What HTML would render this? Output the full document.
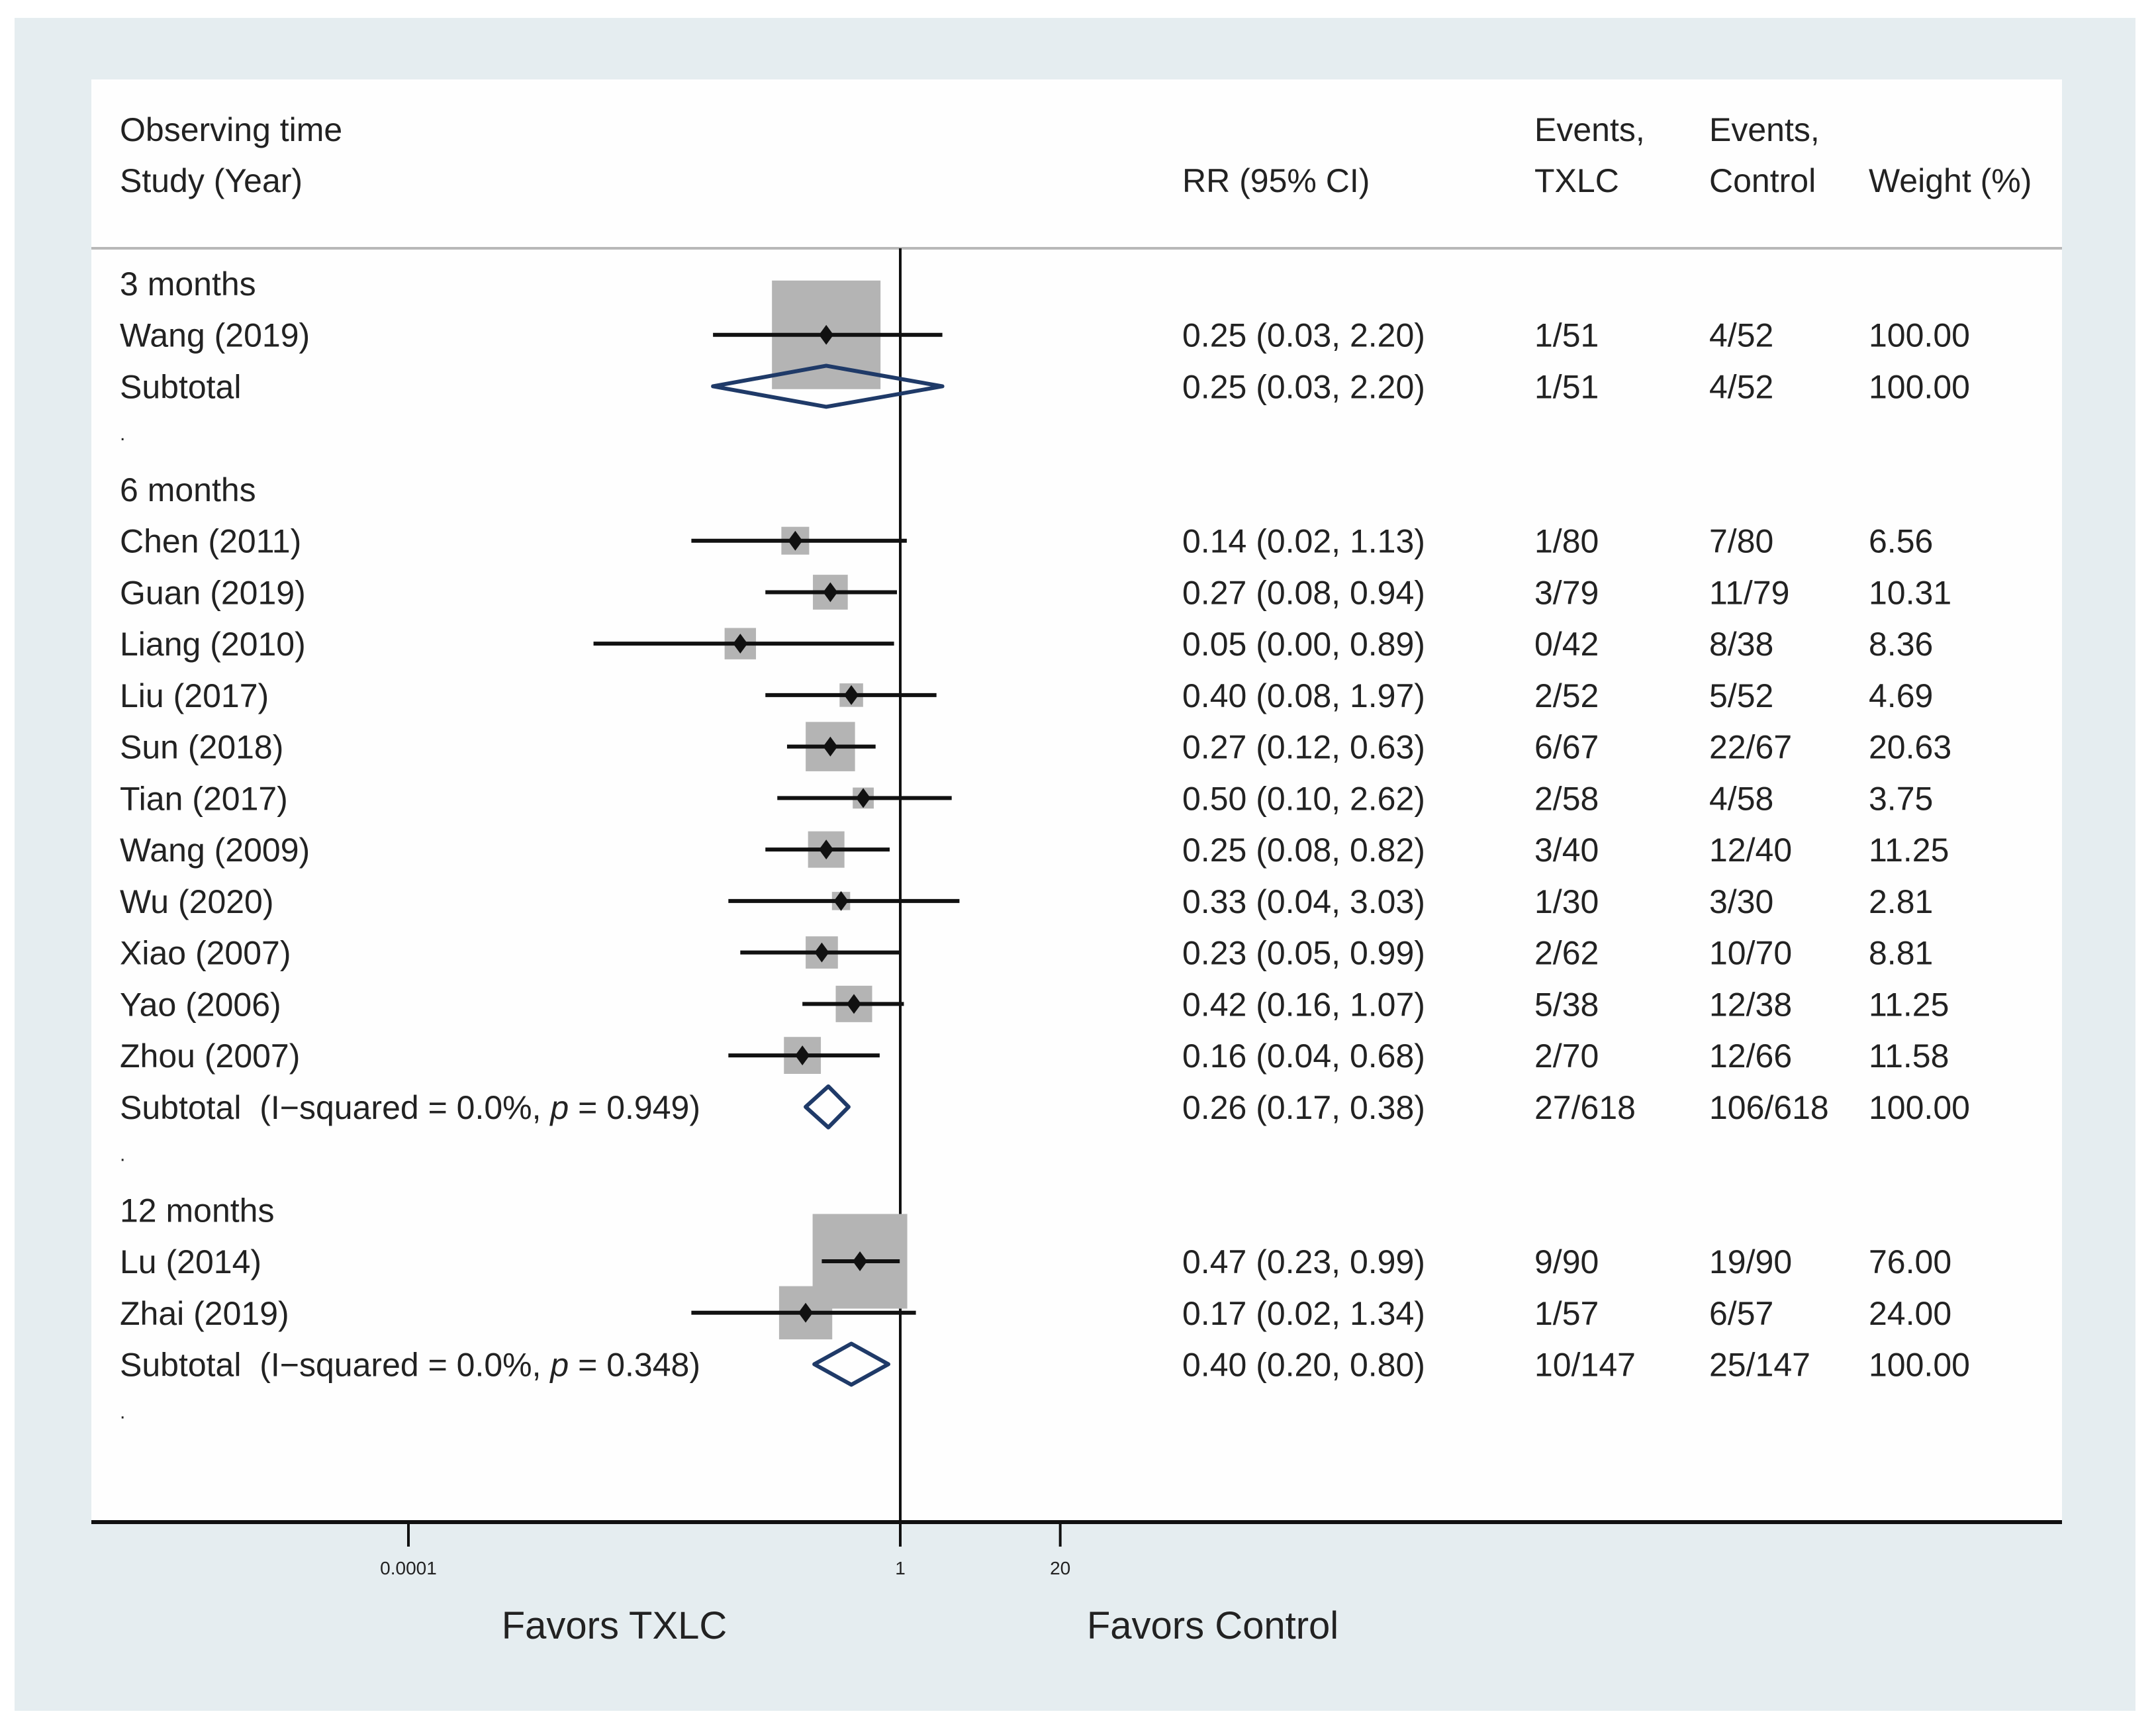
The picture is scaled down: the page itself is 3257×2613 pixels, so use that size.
<!DOCTYPE html>
<html><head><meta charset="utf-8"><style>
html,body{margin:0;padding:0;background:#fff;}
svg{display:block;}
text{font-family:"Liberation Sans",Arial,sans-serif;fill:#222;white-space:pre;}
</style></head><body>
<svg id="chart" width="3257" height="2613" viewBox="0 0 3257 2613" xmlns="http://www.w3.org/2000/svg">
<rect x="22" y="27" width="3204" height="2557" fill="#e5edf0"/>
<rect x="138" y="120" width="2977" height="2179" fill="#fefefe"/>
<line x1="138" y1="375" x2="3115" y2="375" stroke="#b8b8b8" stroke-width="4"/>
<g font-size="50">
<text x="181" y="213">Observing time</text>
<text x="181" y="290">Study (Year)</text>
<text x="1786" y="290">RR (95% CI)</text>
<text x="2318" y="213">Events,</text>
<text x="2318" y="290">TXLC</text>
<text x="2582" y="213">Events,</text>
<text x="2582" y="290">Control</text>
<text x="2823" y="290">Weight (%)</text>
</g>
<g id="marks"></g>
<g id="labels" font-size="50"></g>
<line x1="138" y1="2299" x2="3115" y2="2299" stroke="#111" stroke-width="6"/>
<g id="axis"></g>
<text x="928" y="2475" font-size="58" text-anchor="middle">Favors TXLC</text>
<text x="1832" y="2475" font-size="58" text-anchor="middle">Favors Control</text>
</svg>
<script>
// ---- data ----
const rowLabels = ["3 months","Wang (2019)","Subtotal",".","6 months","Chen (2011)","Guan (2019)","Liang (2010)","Liu (2017)","Sun (2018)","Tian (2017)","Wang (2009)","Wu (2020)","Xiao (2007)","Yao (2006)","Zhou (2007)","Subtotal  (I\u2212squared = 0.0%, p = 0.949)",".","12 months","Lu (2014)","Zhai (2019)","Subtotal  (I\u2212squared = 0.0%, p = 0.348)","."];
const rowTypes = ["head","study","sub","dot","head","study","study","study","study","study","study","study","study","study","study","study","sub","dot","head","study","study","sub","dot"];
const rr =    [null,0.25,0.25,null,null,0.14,0.27,0.05,0.40,0.27,0.50,0.25,0.33,0.23,0.42,0.16,0.26,null,null,0.47,0.17,0.40,null];
const lo =    [null,0.03,0.03,null,null,0.02,0.08,0.0032,0.08,0.12,0.10,0.08,0.04,0.05,0.16,0.04,0.17,null,null,0.23,0.02,0.20,null];
const hi =    [null,2.20,2.20,null,null,1.13,0.94,0.89,1.97,0.63,2.62,0.82,3.03,0.99,1.07,0.68,0.38,null,null,0.99,1.34,0.80,null];
const ciText = [null,"0.25 (0.03, 2.20)","0.25 (0.03, 2.20)",null,null,"0.14 (0.02, 1.13)","0.27 (0.08, 0.94)","0.05 (0.00, 0.89)","0.40 (0.08, 1.97)","0.27 (0.12, 0.63)","0.50 (0.10, 2.62)","0.25 (0.08, 0.82)","0.33 (0.04, 3.03)","0.23 (0.05, 0.99)","0.42 (0.16, 1.07)","0.16 (0.04, 0.68)","0.26 (0.17, 0.38)",null,null,"0.47 (0.23, 0.99)","0.17 (0.02, 1.34)","0.40 (0.20, 0.80)",null];
const evTxlc = [null,"1/51","1/51",null,null,"1/80","3/79","0/42","2/52","6/67","2/58","3/40","1/30","2/62","5/38","2/70","27/618",null,null,"9/90","1/57","10/147",null];
const evCtrl = [null,"4/52","4/52",null,null,"7/80","11/79","8/38","5/52","22/67","4/58","12/40","3/30","10/70","12/38","12/66","106/618",null,null,"19/90","6/57","25/147",null];
const weights = [null,100.00,100.00,null,null,6.56,10.31,8.36,4.69,20.63,3.75,11.25,2.81,8.81,11.25,11.58,100.00,null,null,76.00,24.00,100.00,null];
const tickVals = [0.0001,1,20];
const tickLabels = ["0.0001","1","20"];

// ---- scales ----
const NS="http://www.w3.org/2000/svg";
const X0=1360, PER_DEC=185.75;
function xs(v){return X0+Math.log10(v)*PER_DEC;}
function ys(i){return 428+i*77.74;}
function mk(tag,attrs,parent){const e=document.createElementNS(NS,tag);for(const k in attrs)e.setAttribute(k,attrs[k]);parent.appendChild(e);return e;}
const marks=document.getElementById('marks'), labels=document.getElementById('labels'), axis=document.getElementById('axis');

const nl=mk('line',{x1:X0,y1:375,x2:X0,y2:2299,stroke:'#111','stroke-width':4},marks);



rowTypes.forEach((t,i)=>{
  if(t!=='study')return;
  const s=164*Math.sqrt(weights[i]/100), cx=xs(rr[i]), cy=ys(i);
  const b=mk('rect',{x:cx-s/2,y:cy-s/2,width:s,height:s,fill:'#b4b4b4'},marks);
  
  
});
rowTypes.forEach((t,i)=>{
  const cy=ys(i);
  if(t==='study'){
    const l=mk('line',{x1:xs(lo[i]),y1:cy,x2:xs(hi[i]),y2:cy,stroke:'#111','stroke-width':6},marks);
    
    
    const cx=xs(rr[i]);
    const p=mk('polygon',{points:`${cx-11},${cy} ${cx},${cy-15} ${cx+11},${cy} ${cx},${cy+15}`,fill:'#111'},marks);
    
    
  } else if(t==='sub'){
    const a=xs(lo[i]),c=xs(rr[i]),d=xs(hi[i]);
    const dm=mk('polygon',{points:`${a},${cy} ${c},${cy-31} ${d},${cy} ${c},${cy+31}`,fill:'none',stroke:'#1f3a68','stroke-width':6,'stroke-linejoin':'round'},marks);
    
    
  }
  const by=cy+18;
  if(t==='dot'){
    const d=mk('text',{x:181,y:cy+4,'font-size':30},labels);d.textContent='.';
    
    
    return;
  }
  const lt=mk('text',{x:181,y:by},labels);
  
  
  const lab=rowLabels[i];
  if(lab.indexOf(', p = ')>=0){
    const parts=lab.split(', p = ');
    lt.appendChild(document.createTextNode(parts[0]+', '));
    const ts=mk('tspan',{'font-style':'italic'},lt);ts.textContent='p';
    lt.appendChild(document.createTextNode(' = '+parts[1]));
  } else lt.textContent=lab;
  if(ciText[i]){
    const cols=[[1786,ciText[i],'rr-ci-value'],[2318,evTxlc[i],'events-txlc-value'],[2582,evCtrl[i],'events-control-value'],[2823,weights[i].toFixed(2),'weight-value']];
    cols.forEach(c=>{const e=mk('text',{x:c[0],y:by},labels);e.textContent=c[1];
      
      });
  }
});
tickVals.forEach((v,k)=>{
  const x=xs(v);
  const tk=mk('line',{x1:x,y1:2299,x2:x,y2:2336,stroke:'#111','stroke-width':4},axis);
  
  
  const tl=mk('text',{x:x,y:2378,'font-size':28,'text-anchor':'middle'},axis);
  tl.textContent=tickLabels[k];
  
  
});
</script>
</body></html>
